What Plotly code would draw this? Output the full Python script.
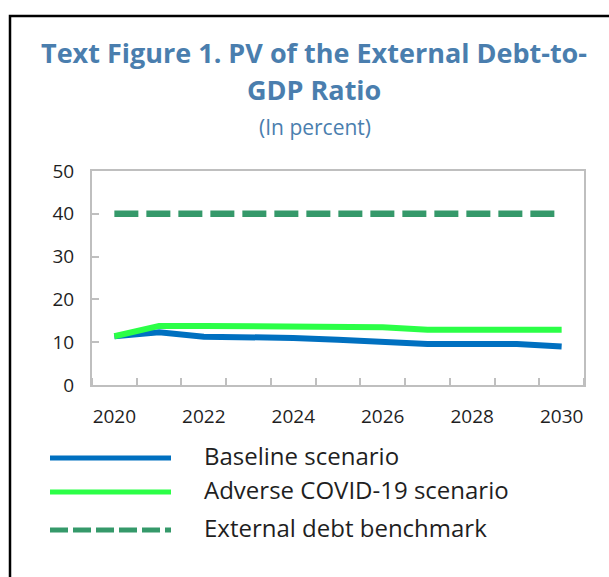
import plotly.graph_objects as go

# ---- data -------------------------------------------------------------
years = list(range(2020, 2031))
baseline = [11.4, 12.3, 11.3, 11.3, 11.0, 10.6, 10.1, 9.6, 9.6, 9.6, 9.0]
adverse = [11.4, 13.8, 13.8, 13.8, 13.5, 13.5, 13.5, 12.9, 12.9, 12.9, 12.9]
benchmark = [40] * len(years)

series_names = ["Baseline scenario", "Adverse COVID-19 scenario", "External debt benchmark"]
x_tick_labels = ["2020", "2022", "2024", "2026", "2028", "2030"]
y_ticks = [0, 10, 20, 30, 40, 50]
title_lines = ["Text Figure 1. PV of the External Debt-to-", "GDP Ratio"]
subtitle = "(In percent)"

# ---- styling ----------------------------------------------------------
W, H = 609, 577
PL, PR, PT, PB = 92, 584, 171, 385          # plot area in pixels
FONT = "Open Sans"
TITLE_BLUE = "#4A7EAE"
TEXT = "#1F1F1F"
GRID_GREY = "#BFBFBF"
BLUE = "#0070C0"
GREEN = "#2BFF47"
DARK_GREEN = "#35996A"


def fx(px):
    return (px - PL) / (PR - PL)


def fy(py):
    return (PB - py) / (PB - PT)


fig = go.Figure()

styles = [
    dict(color=BLUE, width=6),
    dict(color=GREEN, width=6),
    dict(color=DARK_GREEN, width=6.5, dash="24px,8px"),
]
for name, vals, st in zip(series_names, [baseline, adverse, benchmark], styles):
    fig.add_trace(go.Scatter(x=years, y=vals, mode="lines", name=name,
                             line=st, showlegend=False))

# ---- key drawn below the axes ----------------------------------------
key_rows = [458, 492, 530]
key_styles = [
    dict(color=BLUE, width=5),
    dict(color=GREEN, width=5),
    dict(color=DARK_GREEN, width=5, dash="18px,5px"),
]
shapes = []
annotations = []
for name, row, st in zip(series_names, key_rows, key_styles):
    shapes.append(dict(type="line", xref="paper", yref="paper",
                       x0=fx(50), x1=fx(171), y0=fy(row), y1=fy(row), line=st))
    annotations.append(dict(text=name, xref="paper", yref="paper",
                            x=fx(202), y=fy(row - 3), xanchor="left", yanchor="middle",
                            showarrow=False, font=dict(family=FONT, size=24, color=TEXT)))

# frame around the figure panel
shapes.append(dict(type="rect", xref="paper", yref="paper",
                   x0=fx(10), x1=fx(640), y0=fy(620), y1=fy(16),
                   line=dict(color="black", width=2.5), layer="above"))

# heading: two bold lines and a subtitle
for line_text, row in zip(title_lines, [52, 90]):
    annotations.append(dict(text="<b>" + line_text + "</b>", xref="paper", yref="paper",
                            x=fx(314), y=fy(row), xanchor="center", yanchor="middle",
                            showarrow=False, font=dict(family=FONT, size=27, color=TITLE_BLUE)))
annotations.append(dict(text=subtitle, xref="paper", yref="paper",
                        x=fx(315), y=fy(127), xanchor="center", yanchor="middle",
                        showarrow=False, font=dict(family=FONT, size=21, color=TITLE_BLUE)))

fig.update_layout(
    width=W, height=H,
    margin=dict(l=PL, r=W - PR, t=PT, b=H - PB),
    paper_bgcolor="white", plot_bgcolor="white",
    font=dict(family=FONT, color=TEXT),
    shapes=shapes,
    annotations=annotations,
)

fig.update_xaxes(
    range=[2019.5, 2030.5],
    tickvals=[int(t) for t in x_tick_labels], ticktext=x_tick_labels,
    ticks="", showgrid=False, zeroline=False,
    showline=True, linecolor=GRID_GREY, linewidth=2, mirror=True,
    tickfont=dict(family=FONT, size=19, color=TEXT),
    ticklabelstandoff=13,
    minor=dict(tick0=2019.5, dtick=1, ticks="inside", ticklen=7,
               tickcolor=GRID_GREY, tickwidth=2, showgrid=False),
)
fig.update_yaxes(
    range=[0, 50], tickvals=y_ticks,
    ticks="inside", ticklen=7, tickcolor=GRID_GREY, tickwidth=2,
    showgrid=False, zeroline=False,
    showline=True, linecolor=GRID_GREY, linewidth=2, mirror=True,
    tickfont=dict(family=FONT, size=19, color=TEXT),
    ticklabelstandoff=12,
)

fig.write_html("out.html")
